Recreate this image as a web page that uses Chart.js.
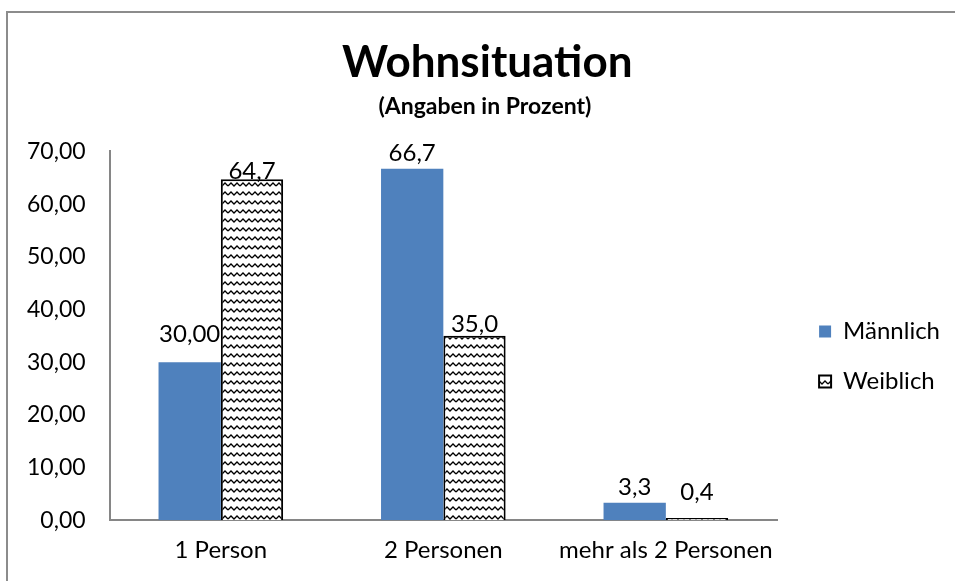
<!DOCTYPE html>
<html>
<head>
<meta charset="utf-8">
<script src="https://cdn.jsdelivr.net/npm/chart.js@4/dist/chart.umd.min.js"></script>
<style>
  html, body { margin: 0; padding: 0; background: #fff; }
  #wrap { position: relative; width: 955px; height: 581px; }
  #frame { position: absolute; left: 6px; top: 11px; width: 1000px; height: 700px;
           border-left: 2px solid #8c8c8c; border-top: 2px solid #8c8c8c; pointer-events: none; }
  canvas { position: absolute; left: 0; top: 0; }
</style>
</head>
<body>
<div id="wrap">
  <canvas id="c" width="955" height="581"></canvas>
  <div id="frame"></div>
</div>
<script>
// ---- data ----
const categories = ['1 Person', '2 Personen', 'mehr als 2 Personen'];
const maennlich = [30.0, 66.7, 3.3];
const weiblich = [64.7, 35.0, 0.4];
const maennlichLabels = ['30,00', '66,7', '3,3'];
const weiblichLabels = ['64,7', '35,0', '0,4'];
const yTicks = [0, 10, 20, 30, 40, 50, 60, 70];

// ---- style helpers (not data) ----
const labelGap = [[20, 8, 8], [0, 4, 18]];
const FONT = 'Lato, sans-serif';

function makePattern() {
  const p = document.createElement('canvas');
  p.width = 12; p.height = 9;
  const g = p.getContext('2d');
  g.fillStyle = '#fff';
  g.fillRect(0, 0, 12, 9);
  g.strokeStyle = '#000';
  g.lineWidth = 1.3;
  g.beginPath();
  g.moveTo(0, 6);
  g.lineTo(3, 3);
  g.lineTo(6, 6);
  g.lineTo(9, 3);
  g.lineTo(12, 6);
  g.stroke();
  return g.createPattern(p, 'repeat');
}
const ctx = document.getElementById('c').getContext('2d');
const pattern = makePattern();

const valueLabelPlugin = {
  id: 'valueLabels',
  afterDatasetsDraw(chart) {
    const c = chart.ctx;
    const texts = [maennlichLabels, weiblichLabels];
    c.save();
    c.font = '24px ' + FONT;
    c.fillStyle = '#000';
    c.textAlign = 'center';
    c.textBaseline = 'bottom';
    chart.data.datasets.forEach((ds, di) => {
      const meta = chart.getDatasetMeta(di);
      meta.data.forEach((bar, i) => {
        c.fillText(texts[di][i], bar.x, bar.y - labelGap[di][i] + 4);
      });
    });
    c.restore();
  }
};

new Chart(ctx, {
  type: 'bar',
  data: {
    labels: categories,
    datasets: [
      { label: 'Männlich', data: maennlich, backgroundColor: '#4f81bd', borderWidth: 0,
        categoryPercentage: 0.56, barPercentage: 1.0 },
      { label: 'Weiblich', data: weiblich, backgroundColor: pattern, borderColor: '#000', borderWidth: 2,
        categoryPercentage: 0.56, barPercentage: 1.0 }
    ]
  },
  options: {
    responsive: false,
    animation: false,
    devicePixelRatio: 1,
    layout: { padding: { top: 20, left: 3, right: 5, bottom: 0 } },
    plugins: {
      title: { display: true, text: '  Wohnsituation', color: '#000',
        font: { family: FONT, size: 44, weight: 'bold' }, padding: { top: 16, bottom: 1 } },
      subtitle: { display: true, text: '   (Angaben in Prozent)', color: '#000',
        font: { family: FONT, size: 23, weight: 'bold' }, padding: { top: 3, bottom: 31 } },
      legend: {
        position: 'right',
        align: 'center',
        title: { display: true, text: ' ', font: { size: 10 }, padding: { top: 100, bottom: 0 } },
        labels: {
          color: '#000',
          font: { family: FONT, size: 24 },
          boxWidth: 12, boxHeight: 12,
          padding: 26
        }
      },
      tooltip: { enabled: false }
    },
    scales: {
      x: {
        grid: { display: false, drawTicks: false },
        border: { display: true, color: '#868686', width: 2 },
        ticks: { color: '#000', font: { family: FONT, size: 24 }, padding: 16, maxRotation: 0 }
      },
      y: {
        min: 0, max: 70,
        afterBuildTicks(axis) { axis.ticks = yTicks.map(v => ({ value: v })); },
        grid: { display: false, drawTicks: false },
        border: { display: true, color: '#868686', width: 2 },
        ticks: { color: '#000', font: { family: FONT, size: 23 }, padding: 24,
          callback: v => v.toFixed(2).replace('.', ',') }
      },
      gap: {
        position: 'right',
        display: true,
        grid: { display: false, drawTicks: false },
        border: { display: false },
        ticks: { display: false },
        afterFit(s) { s.width = 16; }
      }
    }
  },
  plugins: [valueLabelPlugin]
});
</script>
</body>
</html>
